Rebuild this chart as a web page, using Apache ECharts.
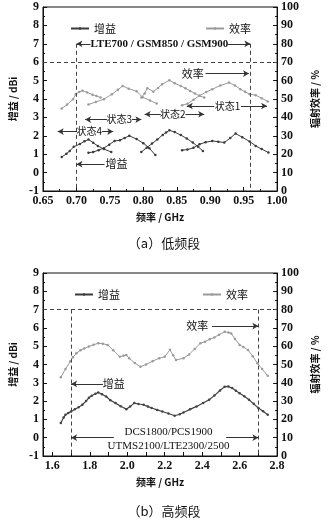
<!DOCTYPE html>
<html><head><meta charset="utf-8">
<script src="https://cdn.jsdelivr.net/npm/echarts@6/dist/echarts.min.js"></script>
<style>html,body{margin:0;padding:0;background:#fff}#c{width:328px;height:521px}</style>
</head><body><div id="c"></div>
<script>
// ---- low band (a): frequency [GHz], gain [dBi] / efficiency [%]
const lowTicksX = [0.65,0.70,0.75,0.80,0.85,0.90,0.95,1.00];
const state4Gain = [[0.678,0.85],[0.685,1.02],[0.690,1.18],[0.696,1.40],[0.705,1.55],[0.712,1.70],[0.718,1.80],[0.725,1.62],[0.732,1.45],[0.741,1.28],[0.752,1.12]];
const state3Gain = [[0.718,1.08],[0.725,1.12],[0.733,1.22],[0.741,1.33],[0.749,1.52],[0.757,1.72],[0.765,1.76],[0.772,1.88],[0.779,2.00],[0.790,1.82],[0.800,1.60],[0.809,1.33],[0.818,0.95]];
const state2Gain = [[0.797,1.12],[0.805,1.35],[0.813,1.58],[0.821,1.80],[0.829,2.05],[0.834,2.18],[0.839,2.30],[0.847,2.20],[0.856,2.04],[0.865,1.85],[0.874,1.63],[0.882,1.40],[0.889,1.18]];
const state1Gain = [[0.858,1.22],[0.866,1.25],[0.875,1.35],[0.884,1.54],[0.893,1.65],[0.903,1.72],[0.912,1.68],[0.921,1.63],[0.930,1.88],[0.938,2.12],[0.948,1.92],[0.959,1.69],[0.968,1.45],[0.977,1.28],[0.987,1.09]];
const state4Eff = [[0.678,44.8],[0.686,47.0],[0.695,49.9],[0.699,52.6],[0.704,53.8],[0.709,54.5],[0.716,53.6],[0.724,52.3],[0.730,51.6],[0.736,50.8]];
const state3Eff = [[0.718,47.0],[0.729,48.4],[0.741,49.9],[0.753,52.6],[0.762,55.0],[0.769,57.1],[0.778,55.6],[0.790,54.2],[0.799,51.0],[0.810,49.2],[0.820,47.5]];
const state2Eff = [[0.797,50.8],[0.802,53.0],[0.806,55.9],[0.815,54.0],[0.822,56.0],[0.828,58.0],[0.839,60.2],[0.847,58.5],[0.856,57.1],[0.863,55.8],[0.870,54.4],[0.877,53.0],[0.884,51.7],[0.891,50.8]];
const state1Eff = [[0.858,46.6],[0.866,47.4],[0.875,49.6],[0.884,51.8],[0.894,53.8],[0.903,55.3],[0.915,57.3],[0.928,58.9],[0.937,57.4],[0.945,55.3],[0.952,54.0],[0.959,52.6],[0.968,52.1],[0.977,50.4],[0.986,48.6]];
// ---- high band (b)
const highTicksX = [1.6,1.8,2.0,2.2,2.4,2.6,2.8];
const highMinorX = [1.7,1.9,2.1,2.3,2.5,2.7];
const highGain = [[1.645,0.80],[1.660,1.10],[1.670,1.25],[1.685,1.35],[1.700,1.43],[1.720,1.55],[1.740,1.66],[1.760,1.80],[1.780,2.00],[1.795,2.18],[1.810,2.29],[1.830,2.40],[1.845,2.47],[1.865,2.38],[1.887,2.25],[1.910,2.05],[1.937,1.89],[1.965,1.72],[1.995,1.56],[2.015,1.70],[2.037,1.89],[2.060,1.84],[2.087,1.80],[2.110,1.70],[2.130,1.62],[2.160,1.52],[2.187,1.43],[2.220,1.32],[2.253,1.20],[2.280,1.28],[2.300,1.38],[2.335,1.55],[2.370,1.71],[2.405,1.90],[2.437,2.07],[2.465,2.30],[2.495,2.58],[2.520,2.79],[2.540,2.80],[2.560,2.71],[2.580,2.56],[2.600,2.43],[2.625,2.27],[2.650,2.07],[2.675,1.85],[2.700,1.62],[2.725,1.45],[2.750,1.25]];
const highEff = [[1.645,43.0],[1.670,47.5],[1.695,51.6],[1.710,54.0],[1.728,56.1],[1.750,57.8],[1.770,58.8],[1.795,59.8],[1.820,60.8],[1.845,61.6],[1.870,61.3],[1.895,60.7],[1.925,57.8],[1.960,54.3],[1.980,54.8],[1.995,55.2],[2.010,53.4],[2.040,50.8],[2.070,48.8],[2.100,50.0],[2.135,51.8],[2.170,53.4],[2.200,54.3],[2.228,58.0],[2.245,55.0],[2.260,52.5],[2.300,53.4],[2.330,55.5],[2.360,58.5],[2.390,61.6],[2.415,62.5],[2.440,63.8],[2.465,64.8],[2.490,66.3],[2.520,67.9],[2.540,67.5],[2.555,67.0],[2.575,64.0],[2.600,60.7],[2.620,59.5],[2.645,57.9],[2.670,54.5],[2.695,50.7],[2.720,47.5],[2.750,43.8]];

const SERIF = '"Liberation Serif","DejaVu Serif",serif';
const CJK = '"Noto Sans CJK SC","Liberation Serif",serif';
const GAIN_C = '#3a3a3a', EFF_C = '#9a9a9a', ANN_C = '#333';

function yAxes(gridIndex){
  const common = {
    gridIndex, axisLine:{show:true,lineStyle:{color:'#111',width:1}},
    axisTick:{inside:true,length:4,lineStyle:{color:'#111'}},
    minorTick:{show:true,splitNumber:2,length:2,lineStyle:{color:'#111'}},
    splitLine:{show:false},
    axisLabel:{color:'#111',fontFamily:SERIF,fontWeight:'bold',fontSize:12,margin:4},
    nameLocation:'middle', nameRotate:90,
    nameTextStyle:{color:'#111',fontFamily:CJK,fontSize:10,fontWeight:'bold'}
  };
  return [
    Object.assign({}, common, {type:'value',position:'left',min:-1,max:9,interval:1,name:'增益 / dBi',nameGap:25}),
    Object.assign({}, common, {type:'value',position:'right',min:0,max:100,interval:10,name:'辐射效率 / %',nameGap:28})
  ];
}
const xCommon = {
  type:'value', axisLine:{show:true,onZero:false,lineStyle:{color:'#111'}},
  axisTick:{inside:true,length:4,lineStyle:{color:'#111'}},
  splitLine:{show:false},
  axisLabel:{color:'#111',fontFamily:SERIF,fontWeight:'bold',fontSize:12,margin:4},
  name:'频率 / GHz', nameLocation:'middle', nameGap:21,
  nameTextStyle:{color:'#111',fontFamily:CJK,fontSize:10,fontWeight:'bold'}
};

function lineSeries(name, data, xi, yi, color, width){
  return {type:'line', name, data, xAxisIndex:xi, yAxisIndex:yi, symbol:'circle', symbolSize:2.5,
    showAllSymbol:true, lineStyle:{color,width}, itemStyle:{color}, silent:true, animation:false, z:3};
}
function arrow(x1,y1,x2,y2,headAt){ // headAt: 'start' | 'end'
  return [{coord:[x1,y1],symbol:headAt==='start'?'arrow':'none'},{coord:[x2,y2],symbol:headAt==='end'?'arrow':'none'}];
}
function dashed(x1,y1,x2,y2){
  return [{coord:[x1,y1],symbol:'none',lineStyle:{type:[4,3],color:'#444',width:1}},{coord:[x2,y2],symbol:'none'}];
}
function txt(x,y,text,font,size,weight){
  return {coord:[x,y],symbol:'circle',symbolSize:0,
    label:{show:true,position:'inside',formatter:text,color:'#111',fontFamily:font,fontSize:size,fontWeight:weight||'bold',lineHeight:size+2}};
}
const mlBase = {silent:true, animation:false, symbolSize:[5,6], label:{show:false},
  lineStyle:{color:ANN_C,width:1,type:'solid'}, emphasis:{disabled:true}};

// Top annotations (data space of grid 0)
const topMarkLines = Object.assign({}, mlBase, {data:[
  dashed(0.65,6,1.0,6), dashed(0.70,7,0.70,-1), dashed(0.96,7,0.96,-1),
  arrow(0.70,7,0.721,7,'start'), arrow(0.926,7,0.96,7,'end'),
  arrow(0.893,5.38,0.958,5.38,'end'),
  arrow(0.865,3.62,0.906,3.62,'start'), arrow(0.946,3.62,0.985,3.62,'end'),
  arrow(0.802,3.17,0.826,3.17,'start'), arrow(0.863,3.17,0.891,3.17,'end'),
  arrow(0.713,2.88,0.746,2.88,'start'), arrow(0.783,2.88,0.797,2.88,'end'),
  arrow(0.672,2.23,0.701,2.23,'start'), arrow(0.738,2.23,0.755,2.23,'end'),
  arrow(0.700,0.46,0.742,0.46,'start')
]});
const topMarkPoints = {silent:true, animation:false, data:[
  txt(0.824,7,'LTE700 / GSM850 / GSM900',SERIF,11),
  txt(0.874,5.38,'效率',CJK,11,'normal'),
  txt(0.926,3.62,'状态1',CJK,10,'normal'),
  txt(0.844,3.17,'状态2',CJK,10,'normal'),
  txt(0.764,2.88,'状态3',CJK,10,'normal'),
  txt(0.719,2.23,'状态4',CJK,10,'normal'),
  txt(0.760,0.46,'增益',CJK,11,'normal')
]};
const botMarkLines = Object.assign({}, mlBase, {data:[
  dashed(1.55,7,2.8,7), dashed(1.70,7,1.70,-1), dashed(2.70,7,2.70,-1),
  arrow(2.453,6.1,2.70,6.1,'end'),
  arrow(1.70,2.94,1.87,2.94,'start'),
  arrow(1.70,0,1.928,0,'start'), arrow(2.528,0,2.70,0,'end')
]});
const botMarkPoints = {silent:true, animation:false, data:[
  txt(2.374,6.1,'效率',CJK,11,'normal'),
  txt(1.928,2.94,'增益',CJK,11,'normal'),
  txt(2.22,0.3,'DCS1800/PCS1900',SERIF,11,'normal'),
  txt(2.22,-0.45,'UTMS2100/LTE2300/2500',SERIF,11,'normal')
]};

const series = [];
const s4g = lineSeries('增益', state4Gain, 0, 0, GAIN_C, 1);
s4g.markLine = topMarkLines; s4g.markPoint = topMarkPoints;
series.push(s4g,
  lineSeries('增益', state3Gain, 0, 0, GAIN_C, 1),
  lineSeries('增益', state2Gain, 0, 0, GAIN_C, 1),
  lineSeries('增益', state1Gain, 0, 0, GAIN_C, 1),
  lineSeries('效率', state4Eff, 0, 1, EFF_C, 1),
  lineSeries('效率', state3Eff, 0, 1, EFF_C, 1),
  lineSeries('效率', state2Eff, 0, 1, EFF_C, 1),
  lineSeries('效率', state1Eff, 0, 1, EFF_C, 1));
const hg = lineSeries('增益', highGain, 1, 2, '#444', 1.2);
hg.markLine = botMarkLines; hg.markPoint = botMarkPoints;
series.push(hg, lineSeries('效率', highEff, 1, 3, EFF_C, 1));

function legend(name, left, top){
  return {data:[name], left, top, itemWidth:18, itemHeight:3, itemGap:4, selectedMode:false,
    textStyle:{fontFamily:CJK,fontSize:11,color:'#111'}, padding:0};
}

const y0 = yAxes(0), y1 = yAxes(1);
const option = {
  animation:false, backgroundColor:'#fff',
  grid:[
    {left:36, top:7, width:250, height:184, show:true, borderColor:'#111', borderWidth:1, backgroundColor:'transparent'},
    {left:36, top:273, width:250, height:183, show:true, borderColor:'#111', borderWidth:1, backgroundColor:'transparent'}
  ],
  xAxis:[
    Object.assign({}, xCommon, {gridIndex:0, min:0.65, max:1.0, interval:0.05,
      minorTick:{show:true,splitNumber:2,length:2,lineStyle:{color:'#111'}},
      axisLabel:Object.assign({}, xCommon.axisLabel, {formatter:v=>v.toFixed(2), customValues:lowTicksX})}),
    Object.assign({}, xCommon, {gridIndex:1, min:1.55, max:2.8,
      axisTick:Object.assign({}, xCommon.axisTick, {customValues:highTicksX.concat(highMinorX)}),
      axisLabel:Object.assign({}, xCommon.axisLabel, {formatter:v=>v.toFixed(1), customValues:highTicksX})})
  ],
  yAxis:[y0[0], y0[1], y1[0], y1[1]],
  legend:[legend('增益',70,23), legend('效率',205,23), legend('增益',74,289), legend('效率',202,289)],
  title:[
    {text:'（a）低频段', left:'center', top:237, textStyle:{fontFamily:CJK,fontSize:13,fontWeight:'normal',color:'#111'}, padding:0},
    {text:'（b）高频段', left:'center', top:505, textStyle:{fontFamily:CJK,fontSize:13,fontWeight:'normal',color:'#111'}, padding:0}
  ],
  series
};
const chart = echarts.init(document.getElementById('c'), null, {renderer:'canvas'});
chart.setOption(option);
</script></body></html>
